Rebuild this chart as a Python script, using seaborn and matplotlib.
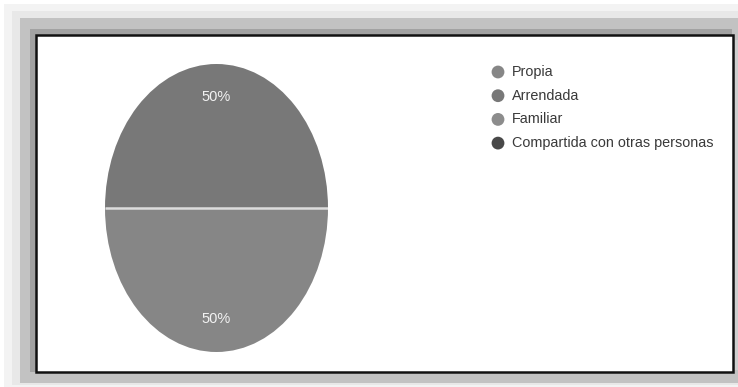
import matplotlib
matplotlib.use("Agg")
import matplotlib.pyplot as plt
from matplotlib.patches import Rectangle
import seaborn as sns

# Housing tenure survey answers
categories = ["Propia", "Arrendada", "Familiar", "Compartida con otras personas"]
shares = [50, 50, 0, 0]
colors = ["#868686", "#787878", "#8c8c8c", "#484848"]

sns.set_theme(style="white")
plt.rcParams["font.family"] = ["Liberation Sans", "DejaVu Sans"]

W, H = 738, 387
fig = plt.figure(figsize=(W / 100, H / 100), dpi=100)
fig.patch.set_facecolor("white")

# Background layer in pixel units: soft drop shadow and the framed panel
bg = fig.add_axes([0, 0, 1, 1])
bg.set_xlim(0, W)
bg.set_ylim(H, 0)
bg.axis("off")
shadow_layers = [
    ((4, 4, W - 4, H - 4), "#f3f3f3"),
    ((12, 11, W - 12, H - 13), "#e8e8e8"),
    ((20, 18, W - 20, H - 22), "#c2c2c2"),
    ((30, 29, W - 36, 343), "#a2a2a2"),
]
for (x, y, w, h), c in shadow_layers:
    bg.add_patch(Rectangle((x, y), w, h, facecolor=c, edgecolor="none"))
bg.add_patch(Rectangle((733, 40), 5, 330, facecolor="#cfcfcf", edgecolor="none"))
bg.add_patch(Rectangle((36, 35), 697, 337, facecolor="white",
                       edgecolor="#111111", linewidth=1.8))

# Legend entries
legend_x, legend_y0, legend_dy = 498, 72, 23.7
for i, (lab, c) in enumerate(zip(categories, colors)):
    yy = legend_y0 + i * legend_dy
    bg.scatter([legend_x], [yy], s=85, color=c, edgecolors="none")
    bg.text(legend_x + 14, yy, lab, fontsize=10.4, color="#3a3a3a",
            va="center", ha="left")

# Elliptical pie
pie_l, pie_t, pie_w, pie_h = 105, 64, 223, 288
ax = fig.add_axes([pie_l / W, (H - pie_t - pie_h) / H, pie_w / W, pie_h / H])
wedges, texts, autotexts = ax.pie(
    shares, colors=colors, startangle=180, counterclock=True,
    autopct=lambda p: f"{p:.0f}%" if p > 0 else "",
    pctdistance=0.77, radius=1,
    wedgeprops=dict(edgecolor="none"),
    textprops=dict(color="#f2f2f2", fontsize=10.5),
)
# light separator between the two halves
ax.plot([-1, 1], [0, 0], color="#dcdcdc", linewidth=1.8, solid_capstyle="butt")
ax.set_aspect("auto")
ax.set_xlim(-1, 1)
ax.set_ylim(-1, 1)
ax.axis("off")

fig.savefig("out.png", dpi=100)
